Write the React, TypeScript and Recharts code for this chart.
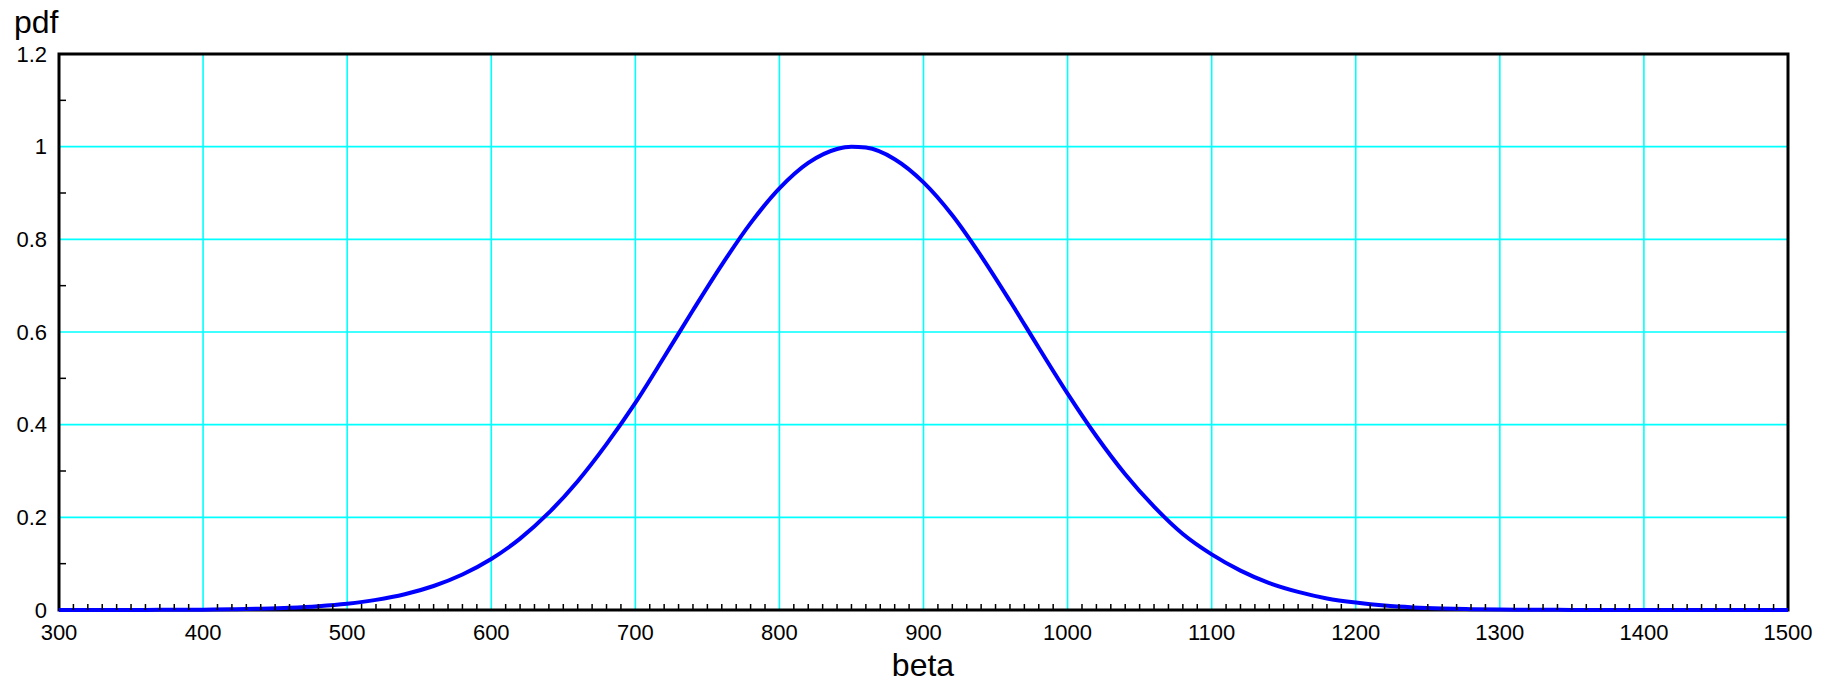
import * as React from "react";
import {
    CartesianGrid,
    Line,
    LineChart,
    ReferenceArea,
    XAxis,
    YAxis,
} from "recharts";

// values
const betaValues = [
    300, 320, 340, 360, 380, 400, 420, 440, 460, 480, 500, 520, 540, 560, 580,
    600, 620, 640, 660, 680, 700, 720, 740, 760, 780, 800, 820, 840, 850, 860,
    880, 900, 920, 940, 960, 980, 1000, 1020, 1040, 1060, 1080, 1100, 1120,
    1140, 1160, 1180, 1200, 1220, 1240, 1260, 1280, 1300, 1320, 1340, 1360,
    1380, 1400, 1420, 1440, 1460, 1480, 1500,
];

const pdfValues = [
    0, 0.00005, 0.0001, 0.0002, 0.0004, 0.0008, 0.0015, 0.0028, 0.0048, 0.0082,
    0.0135, 0.0218, 0.034, 0.0518, 0.0766, 0.11, 0.154, 0.21, 0.278, 0.358,
    0.447, 0.546, 0.647, 0.745, 0.835, 0.91, 0.965, 0.995, 1.0, 0.998, 0.973,
    0.923, 0.852, 0.764, 0.667, 0.566, 0.467, 0.375, 0.293, 0.223, 0.164, 0.12,
    0.085, 0.058, 0.039, 0.025, 0.016, 0.0095, 0.0056, 0.0032, 0.0018, 0.001,
    0.0005, 0.0003, 0.0001, 0.00005, 0, 0, 0, 0, 0, 0,
];

const xTicks = [300, 400, 500, 600, 700, 800, 900, 1000, 1100, 1200, 1300, 1400, 1500];
const yTicks = [0, 0.2, 0.4, 0.6, 0.8, 1, 1.2];
const yMinorTicks = [0.1, 0.3, 0.5, 0.7, 0.9, 1.1];
// small ticks every 10 along the bottom, skipping the gridline positions
const xMinorTicks = Array.from({ length: 121 }, (_, i) => 300 + i * 10).filter(
    (v) => v % 100 !== 0
);

const xDomain: [number, number] = [300, 1500];
const yDomain: [number, number] = [0, 1.2];

const data = betaValues.map((beta, i) => ({ beta, pdf: pdfValues[i] }));

const font = "'Liberation Sans', Arial, Helvetica, sans-serif";
const tickStyle = { fontSize: 22, fill: "#000" };
const minorTickLine = { stroke: "#000", strokeWidth: 1.5 };
const noLabel = () => "";
const titleStyle: React.CSSProperties = {
    position: "absolute",
    fontSize: 32,
    lineHeight: "28px",
    color: "#000",
    whiteSpace: "nowrap",
};

export default function App() {
    return (
        <div style={{ position: "relative", width: 1837, height: 680, fontFamily: font }}>
            <style>{"body{margin:0}"}</style>
            <LineChart
                width={1837}
                height={680}
                data={data}
                margin={{ top: 54, right: 49, bottom: 40, left: 0 }}
            >
                <CartesianGrid stroke="#00ffff" strokeWidth={1.6} />
                <XAxis
                    dataKey="beta"
                    type="number"
                    domain={xDomain}
                    ticks={xTicks}
                    interval={0}
                    height={30}
                    axisLine={false}
                    tickLine={false}
                    tickSize={0}
                    tickMargin={14}
                    tick={tickStyle}
                />
                <XAxis
                    xAxisId="minor"
                    dataKey="beta"
                    type="number"
                    domain={xDomain}
                    ticks={xMinorTicks}
                    interval={0}
                    mirror
                    height={20}
                    axisLine={false}
                    tickFormatter={noLabel}
                    tickSize={6}
                    tickLine={minorTickLine}
                />
                <YAxis
                    type="number"
                    domain={yDomain}
                    ticks={yTicks}
                    interval={0}
                    width={59}
                    axisLine={false}
                    tickLine={false}
                    tickSize={0}
                    tickMargin={12}
                    tick={tickStyle}
                />
                <YAxis
                    yAxisId="minor"
                    type="number"
                    domain={yDomain}
                    ticks={yMinorTicks}
                    interval={0}
                    mirror
                    width={20}
                    axisLine={false}
                    tickFormatter={noLabel}
                    tickSize={7}
                    tickLine={minorTickLine}
                />
                <ReferenceArea
                    x1={xDomain[0]}
                    x2={xDomain[1]}
                    y1={yDomain[0]}
                    y2={yDomain[1]}
                    fill="none"
                    fillOpacity={0}
                    stroke="#000"
                    strokeWidth={3}
                />
                {/* invisible copy so the minor-tick axes have a series */}
                <Line
                    xAxisId="minor"
                    yAxisId="minor"
                    dataKey="pdf"
                    stroke="none"
                    dot={false}
                    activeDot={false}
                    legendType="none"
                    isAnimationActive={false}
                />
                <Line
                    dataKey="pdf"
                    type="monotone"
                    stroke="#0000ff"
                    strokeWidth={4}
                    dot={false}
                    isAnimationActive={false}
                />
            </LineChart>
            <span style={{ ...titleStyle, left: 14, top: 8 }}>pdf</span>
            <span style={{ ...titleStyle, left: 923, top: 651, transform: "translateX(-50%)" }}>
                beta
            </span>
        </div>
    );
}
